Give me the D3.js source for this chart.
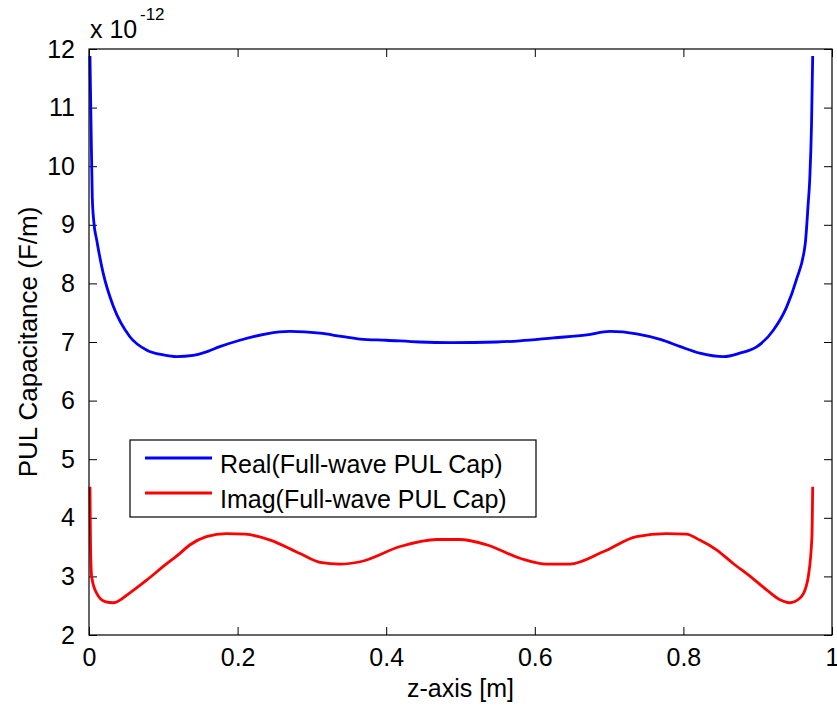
<!DOCTYPE html>
<html>
<head>
<meta charset="utf-8">
<script src="https://cdn.jsdelivr.net/npm/d3@7"></script>
<style>
  html, body { margin: 0; padding: 0; background: #fff; }
  svg { display: block; font-family: "Liberation Sans", Arial, sans-serif; }
</style>
</head>
<body>
<svg id="chart" width="837" height="708"></svg>
<script>
// ---- data (values in units of 1e-12 F/m) ----
const realZ = [0.0013, 0.002, 0.0027, 0.0044, 0.0065, 0.0104, 0.019, 0.033, 0.055, 0.078, 0.10, 0.118, 0.14, 0.16, 0.176, 0.203, 0.239, 0.27, 0.311, 0.342, 0.365, 0.40, 0.445, 0.487, 0.549, 0.58, 0.625, 0.67, 0.701, 0.737, 0.77, 0.796, 0.822, 0.854, 0.876, 0.899, 0.921, 0.939, 0.952, 0.964, 0.968, 0.970, 0.9725, 0.974];
const realC = [11.88, 11.3, 10.74, 9.48, 9.05, 8.74, 8.18, 7.60, 7.09, 6.86, 6.78, 6.75, 6.77, 6.84, 6.92, 7.03, 7.14, 7.18, 7.15, 7.09, 7.05, 7.03, 7.0, 6.99, 7.0, 7.02, 7.07, 7.12, 7.18, 7.14, 7.04, 6.92, 6.81, 6.75, 6.81, 6.92, 7.20, 7.60, 8.06, 8.68, 9.37, 9.76, 10.74, 11.88];
const imagZ = [0.0013, 0.002, 0.0036, 0.0104, 0.0215, 0.033, 0.055, 0.078, 0.10, 0.122, 0.136, 0.158, 0.185, 0.21, 0.244, 0.284, 0.311, 0.338, 0.365, 0.419, 0.468, 0.499, 0.535, 0.58, 0.616, 0.647, 0.692, 0.737, 0.777, 0.804, 0.822, 0.845, 0.867, 0.89, 0.912, 0.930, 0.943, 0.957, 0.965, 0.968, 0.973, 0.974];
const imagC = [4.53, 3.6, 2.99, 2.71, 2.57, 2.55, 2.72, 2.94, 3.17, 3.39, 3.54, 3.68, 3.73, 3.72, 3.62, 3.39, 3.24, 3.21, 3.25, 3.51, 3.63, 3.63, 3.54, 3.31, 3.21, 3.21, 3.42, 3.68, 3.73, 3.72, 3.62, 3.45, 3.22, 3.0, 2.77, 2.60, 2.55, 2.63, 2.82, 2.99, 3.68, 4.53];
const xTicks = [0, 0.2, 0.4, 0.6, 0.8, 1];
const xTickLabels = ["0", "0.2", "0.4", "0.6", "0.8", "1"];
const yTicks = [2, 3, 4, 5, 6, 7, 8, 9, 10, 11, 12];
const seriesNames = ["Real(Full-wave PUL Cap)", "Imag(Full-wave PUL Cap)"];
const seriesColors = ["#0000ff", "#ff0000"];

// ---- layout ----
const L = 89, R = 832, T = 49, B = 635;
const svg = d3.select("#chart");
const x = d3.scaleLinear().domain([0, 1]).range([L, R]);
const y = d3.scaleLinear().domain([2, 12]).range([B, T]);
const tickLen = 8;
const fs = 25;

// plot background
svg.append("rect").attr("x", L).attr("y", T).attr("width", R - L).attr("height", B - T).attr("fill", "#fff");

// axes
const xb = svg.append("g").attr("transform", `translate(0,${B})`)
  .call(d3.axisBottom(x).tickValues(xTicks).tickFormat((d, i) => xTickLabels[i]).tickSizeInner(-tickLen).tickSizeOuter(0).tickPadding(13));
const xt = svg.append("g").attr("transform", `translate(0,${T})`)
  .call(d3.axisTop(x).tickValues(xTicks).tickFormat("").tickSizeInner(-tickLen).tickSizeOuter(0));
const yl = svg.append("g").attr("transform", `translate(${L},0)`)
  .call(d3.axisLeft(y).tickValues(yTicks).tickFormat(d3.format("d")).tickSizeInner(-tickLen).tickSizeOuter(0).tickPadding(14));
const yr = svg.append("g").attr("transform", `translate(${R},0)`)
  .call(d3.axisRight(y).tickValues(yTicks).tickFormat("").tickSizeInner(-tickLen).tickSizeOuter(0));
[xb, xt, yl, yr].forEach(g => {
  g.select(".domain").remove();
  g.selectAll(".tick line").attr("stroke", "#000").attr("stroke-width", 1);
  g.selectAll("text").attr("fill", "#000").style("font-size", fs + "px").style("font-family", '"Liberation Sans", Arial, sans-serif');
});
xb.selectAll("text").attr("dy", "0.71em");

// lines
const line = d3.line().x(d => x(d[0])).y(d => y(d[1])).curve(d3.curveMonotoneX);
const realData = realZ.map((z, i) => [z, realC[i]]);
const imagData = imagZ.map((z, i) => [z, imagC[i]]);
const plot = svg.append("g");
[realData, imagData].forEach((data, i) => {
  plot.append("path").datum(data).attr("d", line)
    .attr("fill", "none").attr("stroke", seriesColors[i]).attr("stroke-width", 2.8)
    .attr("stroke-linejoin", "round").attr("stroke-linecap", "butt");
});

// box
svg.append("rect").attr("x", L).attr("y", T).attr("width", R - L).attr("height", B - T)
  .attr("fill", "none").attr("stroke", "#000").attr("stroke-width", 1.2);

// exponent label
svg.append("text").attr("x", 90).attr("y", 38).attr("fill", "#000")
  .style("font-size", fs + "px").text("x 10");
svg.append("text").attr("x", 140).attr("y", 20).attr("fill", "#000")
  .style("font-size", "17px").text("-12");

// axis titles
svg.append("text").attr("x", (L + R) / 2).attr("y", 697).attr("text-anchor", "middle")
  .attr("fill", "#000").style("font-size", fs + "px").text("z-axis [m]");
svg.append("text").attr("transform", `translate(37,${(T + B) / 2}) rotate(-90)`)
  .attr("text-anchor", "middle").attr("fill", "#000").style("font-size", "26px")
  .text("PUL Capacitance (F/m)");

// legend
const lg = svg.append("g");
lg.append("rect").attr("x", 130).attr("y", 440).attr("width", 406).attr("height", 77)
  .attr("fill", "#fff").attr("stroke", "#000").attr("stroke-width", 1.2);
seriesNames.forEach((name, i) => {
  const ly = 458 + i * 35;
  lg.append("line").attr("x1", 145).attr("x2", 212).attr("y1", ly).attr("y2", ly)
    .attr("stroke", seriesColors[i]).attr("stroke-width", 2.8);
  lg.append("text").attr("x", 220).attr("y", ly + 15).attr("fill", "#000")
    .style("font-size", fs + "px").text(name);
});
</script>
</body>
</html>
